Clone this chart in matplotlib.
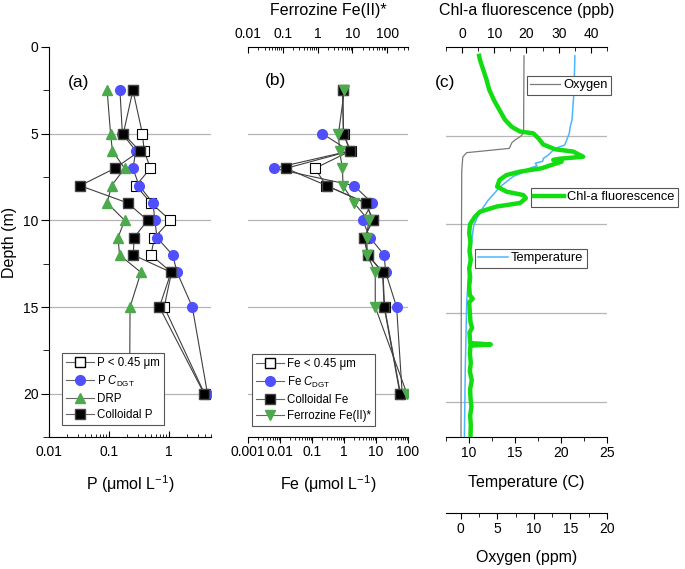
import numpy as np
import matplotlib
matplotlib.use('Agg')
import matplotlib.pyplot as plt
from matplotlib.ticker import FixedLocator, FixedFormatter, NullFormatter, MultipleLocator, LogLocator
from matplotlib.lines import Line2D

plt.rcParams['font.family'] = ['Liberation Sans', 'DejaVu Sans']
plt.rcParams['mathtext.fontset'] = 'custom'
plt.rcParams['mathtext.rm'] = 'Liberation Sans'
plt.rcParams['mathtext.it'] = 'Liberation Sans:italic'
plt.rcParams['mathtext.bf'] = 'Liberation Sans:bold'

# ---------------- data: panel (a) phosphorus ----------------
p_depth = [2.5, 5, 6, 7, 8, 9, 10, 11, 12, 13, 15, 20]
p_filt = [0.25, 0.36, 0.385, 0.49, 0.28, 0.50, 1.05, 0.57, 0.50, 1.10, 0.83, 3.9]
p_dgt = [0.152, 0.167, 0.28, 0.25, 0.317, 0.54, 0.58, 0.63, 1.15, 1.36, 2.44, 4.37]
p_drp = [0.093, 0.106, 0.114, 0.182, 0.11, 0.093, 0.182, 0.141, 0.15, 0.34, 0.224, 0.22]
p_coll = [0.25, 0.173, 0.325, 0.125, 0.033, 0.205, 0.44, 0.26, 0.255, 1.08, 0.69, 3.84]

# ---------------- data: panel (b) iron ----------------
fe_depth = [2.5, 5, 6, 7, 8, 9, 10, 11, 12, 13, 15, 20]
fe_filt = [0.91, 0.97, 1.6, 0.123, 0.28, 4.9, 8.0, 4.3, 5.6, 16.5, 18.5, 58]
fe_coll = [0.91, 0.95, 1.55, 0.0155, 0.29, 4.8, 7.9, 4.2, 5.5, 16, 18, 56]
fe_dgt_depth = [5, 6, 7, 8, 9, 10, 11, 12, 13, 15, 20]
fe_dgt = [0.21, 1.5, 0.0065, 2.05, 7.6, 3.8, 6.5, 18, 20, 44, 66]
ferro_depth = [2.5, 5, 6, 7, 8, 9, 10, 11, 12, 13, 15, 20]
ferro = [5.9, 4.0, 4.3, 5.2, 5.4, 11.3, 29.4, 26, 27, 45.7, 45.7, 373]

# ---------------- data: panel (c) profiles ----------------
temp_depth = [0.5, 0.73, 2.6, 4.1, 4.5, 4.87, 5.53, 5.66, 5.8, 6.1, 6.28, 6.45, 6.5,
              6.56, 6.7, 6.8, 6.94, 7.1, 7.3, 7.88, 8.63, 9.38, 10.1, 10.9, 11.6,
              14.4, 18, 22]
temp = [21.5, 21.5, 21.4, 21.2, 21.0, 20.9, 20.4, 19.7, 19.2, 18.6, 18.1, 18.0, 17.6,
        17.2, 17.4, 16.8, 16.1, 15.8, 14.8, 13.4, 12.1, 11.1, 10.5, 10.3, 10.1,
        9.75, 9.6, 9.5]

ox_depth = [0.5, 4.85, 5.0, 5.12, 5.25, 5.4, 5.72, 5.96, 6.2, 7.0, 12, 22]
oxygen = [8.66, 8.6, 8.3, 7.9, 7.4, 7.0, 6.65, 0.82, 0.3, 0.15, 0.1, 0.05]

chl_depth = [0.5, 0.73, 1.3, 1.86, 2.4, 3.0, 3.55, 4.1, 4.5, 4.77, 4.87, 5.15, 5.5,
             5.77, 5.9, 6.19, 6.3, 6.37, 6.47, 6.65, 6.84, 7.03, 7.22, 7.5, 7.88,
             8.16, 8.35, 8.53, 8.8, 9.0, 9.29, 9.57, 10.0, 10.5, 11.0, 11.5, 12.0,
             12.5, 13.0, 13.5, 14.0, 14.2, 14.4, 15.0, 15.5, 15.85, 16.1, 16.7,
             16.78, 16.85, 17.3, 17.8, 18.3, 18.8, 19.3, 19.8, 20.3, 20.8, 21.3, 22.0]
chl = [5.3, 5.55, 6.6, 7.6, 8.4, 9.9, 11.6, 13.3, 15.4, 18.0, 22.1, 23.7, 25.2,
       28.9, 34.5, 37.6, 30.4, 28.3, 30.9, 27.8, 24.7, 18.0, 13.8, 11.6, 10.9,
       13.8, 19.0, 19.8, 18.0, 10.7, 5.55, 4.0, 2.45, 2.2, 2.6, 2.3, 2.7,
       2.2, 2.5, 2.2, 2.4, 3.3, 2.2, 2.4, 2.6, 3.1, 2.3, 2.5,
       8.9, 2.6, 2.4, 2.7, 2.4, 3.0, 2.5, 2.6, 2.9, 2.5, 2.7, 2.6]

# ---------------- figure layout ----------------
W, H = 685, 569
fig = plt.figure(figsize=(W / 100, H / 100), dpi=100)
bot = (H - 437) / H
hgt = 390 / H
axA = fig.add_axes([49 / W, bot, 162 / W, hgt])
axB = fig.add_axes([248 / W, bot, 160 / W, hgt])
axC = fig.add_axes([446 / W, bot, 161 / W, hgt])

TICK_FS = 10
LAB_FS = 11.5
LEG_FS = 8.3
grid_c = '#b4b4b4'
line_c = '#404040'
blue = '#4f4fff'
green_tri = '#4caa4c'

for ax, ymax in ((axA, 22.5), (axB, 22.5), (axC, 22.0)):
    ax.set_ylim(ymax, 0)
    for d in (5, 10, 15, 20):
        ax.axhline(d, color=grid_c, lw=0.9, zorder=0)
    for s in ('top', 'right'):
        ax.spines[s].set_visible(False)
    ax.patch.set_visible(False)

# ---------- panel (a) ----------
axA.set_xscale('log')
axA.set_xlim(0.01, 5)
mk = dict(ms=7, lw=0.8, color=line_c)
axA.plot(p_filt, p_depth, marker='s', mfc='white', mec='black', mew=0.8, **mk)
axA.plot(p_dgt, p_depth, marker='o', mfc=blue, mec=blue, **mk)
axA.plot(p_drp, p_depth, marker='^', mfc=green_tri, mec=green_tri, **mk)
axA.plot(p_coll, p_depth, marker='s', mfc='black', mec='#444444', **mk)
axA.xaxis.set_major_locator(FixedLocator([0.01, 0.1, 1]))
axA.xaxis.set_major_formatter(FixedFormatter(['0.01', '0.1', '1']))
axA.xaxis.set_minor_locator(LogLocator(base=10, subs=np.arange(2, 10), numticks=20))
axA.xaxis.set_minor_formatter(NullFormatter())
axA.tick_params(axis='x', which='major', direction='in', length=4, labelsize=TICK_FS, pad=6)
axA.tick_params(axis='x', which='minor', direction='in', length=2.5)
axA.yaxis.set_major_locator(MultipleLocator(5))
axA.yaxis.set_minor_locator(MultipleLocator(2.5))
axA.tick_params(axis='y', which='major', direction='out', length=5.5, labelsize=TICK_FS, pad=2)
axA.tick_params(axis='y', which='minor', direction='out', length=4)
axA.set_ylabel('Depth (m)', fontsize=LAB_FS, labelpad=4)
axA.set_xlabel('P (μmol L$^{-1}$)', fontsize=LAB_FS, labelpad=10)

# ---------- panel (b) ----------
axB.spines['left'].set_visible(False)
axB.set_yticks([])
axB.set_xscale('log')
axB.set_xlim(0.001, 100)
axB.plot(fe_filt, fe_depth, marker='s', mfc='white', mec='black', mew=0.8, **mk)
axB.plot(fe_dgt, fe_dgt_depth, marker='o', mfc=blue, mec=blue, **mk)
axB.plot(fe_coll, fe_depth, marker='s', mfc='black', mec='#444444', **mk)
axB.xaxis.set_major_locator(FixedLocator([0.001, 0.01, 0.1, 1, 10, 100]))
axB.xaxis.set_major_formatter(FixedFormatter(['0.001', '0.01', '0.1', '1', '10', '100']))
axB.xaxis.set_minor_locator(LogLocator(base=10, subs=np.arange(2, 10), numticks=20))
axB.xaxis.set_minor_formatter(NullFormatter())
axB.tick_params(axis='x', which='major', direction='out', length=4, labelsize=TICK_FS, pad=2)
axB.tick_params(axis='x', which='minor', direction='out', length=2.5)
axB.set_xlabel('Fe (μmol L$^{-1}$)', fontsize=LAB_FS, labelpad=10)

axB2 = axB.twiny()
axB2.set_xscale('log')
axB2.set_xlim(0.01, 400)
axB2.set_ylim(22.5, 0)
for s in ('left', 'right', 'bottom'):
    axB2.spines[s].set_visible(False)
axB2.plot(ferro, ferro_depth, marker='v', mfc=green_tri, mec=green_tri, **mk)
axB2.xaxis.set_major_locator(FixedLocator([0.01, 0.1, 1, 10, 100]))
axB2.xaxis.set_major_formatter(FixedFormatter(['0.01', '0.1', '1', '10', '100']))
axB2.xaxis.set_minor_locator(LogLocator(base=10, subs=np.arange(2, 10), numticks=20))
axB2.xaxis.set_minor_formatter(NullFormatter())
axB2.tick_params(axis='x', which='major', direction='in', length=4, labelsize=TICK_FS, pad=4)
axB2.tick_params(axis='x', which='minor', direction='in', length=2.5)
axB2.set_xlabel('Ferrozine Fe(II)*', fontsize=LAB_FS, labelpad=9)

# ---------- panel (c) ----------
axC.spines['left'].set_visible(False)
axC.set_yticks([])
axC.set_xlim(7.5, 25)
axC.plot(temp, temp_depth, color='#4db5ff', lw=1.1, zorder=3)
axC.xaxis.set_major_locator(MultipleLocator(5))
axC.xaxis.set_minor_locator(MultipleLocator(2.5))
axC.tick_params(axis='x', which='major', direction='out', length=4.5, labelsize=TICK_FS, pad=2)
axC.tick_params(axis='x', which='minor', direction='out', length=3)
axC.set_xlabel('Temperature (C)', fontsize=LAB_FS, labelpad=11)

axC3 = axC.twiny()
axC3.set_xlim(-2, 20)
axC3.set_ylim(22, 0)
axC3.xaxis.set_ticks_position('bottom')
axC3.xaxis.set_label_position('bottom')
for s in ('left', 'right', 'top'):
    axC3.spines[s].set_visible(False)
axC3.spines['bottom'].set_visible(True)
axC3.spines['bottom'].set_position(('outward', 55))
axC3.plot(oxygen, ox_depth, color='#7a7a7a', lw=0.9)
axC3.xaxis.set_major_locator(MultipleLocator(5))
axC3.xaxis.set_minor_locator(MultipleLocator(2.5))
axC3.tick_params(axis='x', which='major', direction='out', length=4.5, labelsize=TICK_FS, pad=2)
axC3.tick_params(axis='x', which='minor', direction='out', length=3)
axC3.set_xlabel('Oxygen (ppm)', fontsize=LAB_FS, labelpad=10)

axC2 = axC.twiny()
axC2.set_xlim(-5, 45)
axC2.set_ylim(22, 0)
for s in ('left', 'right', 'bottom'):
    axC2.spines[s].set_visible(False)
axC2.plot(chl, chl_depth, color='#11dd11', lw=3.2, solid_joinstyle='round')
axC2.xaxis.set_major_locator(MultipleLocator(10))
axC2.xaxis.set_minor_locator(MultipleLocator(5))
axC2.tick_params(axis='x', which='major', direction='in', length=4.5, labelsize=TICK_FS, pad=4)
axC2.tick_params(axis='x', which='minor', direction='in', length=3)
axC2.set_xlabel('Chl-a fluorescence (ppb)', fontsize=LAB_FS, labelpad=9)

# ---------- panel letters ----------
for x, y, t in ((68, 82, '(a)'), (265, 80, '(b)'), (435, 83, '(c)')):
    fig.text(x / W, 1 - y / H, t, fontsize=12.5, ha='left', va='center')

# ---------- legends ----------
leg_kw = dict(frameon=True, fancybox=False, framealpha=1, edgecolor='#555555',
              borderaxespad=0, borderpad=0.35, labelspacing=0.38, handlelength=2.4,
              handletextpad=0.3, loc='upper left', bbox_transform=fig.transFigure)
hA = [Line2D([], [], marker='s', mfc='white', mec='black', ms=7, color='#666666', lw=0.8),
      Line2D([], [], marker='o', mfc=blue, mec=blue, ms=7, color='#666666', lw=0.8),
      Line2D([], [], marker='^', mfc=green_tri, mec=green_tri, ms=7, color='#666666', lw=0.8),
      Line2D([], [], marker='s', mfc='black', mec='#444444', ms=7, color='#666666', lw=0.8)]
legA = fig.legend(hA, ['P < 0.45 μm', r'P $C_{\mathrm{DGT}}$', 'DRP', 'Colloidal P'],
                  bbox_to_anchor=(62 / W, 1 - 353 / H), fontsize=LEG_FS, **leg_kw)
legA.get_frame().set_linewidth(0.8)
hB = [hA[0], hA[1], hA[3],
      Line2D([], [], marker='v', mfc=green_tri, mec=green_tri, ms=7, color='#666666', lw=0.8)]
legB = fig.legend(hB, ['Fe < 0.45 μm', r'Fe $C_{\mathrm{DGT}}$', 'Colloidal Fe', 'Ferrozine Fe(II)*'],
                  bbox_to_anchor=(252 / W, 1 - 354 / H), fontsize=LEG_FS, **leg_kw)
legB.get_frame().set_linewidth(0.8)

leg_c = dict(leg_kw)
leg_c.update(handlelength=2.3, borderpad=0.25, handletextpad=0.25)
for (x, y), h, lab in (((527, 76), Line2D([], [], color='#7a7a7a', lw=0.9), 'Oxygen'),
                       ((531, 188), Line2D([], [], color='#11dd11', lw=3.2), 'Chl-a fluorescence'),
                       ((475, 249), Line2D([], [], color='#4db5ff', lw=1.1), 'Temperature')):
    lg = fig.legend([h], [lab], bbox_to_anchor=(x / W, 1 - y / H), fontsize=9.3, **leg_c)
    lg.get_frame().set_linewidth(0.8)

fig.savefig('out.png', dpi=100)
